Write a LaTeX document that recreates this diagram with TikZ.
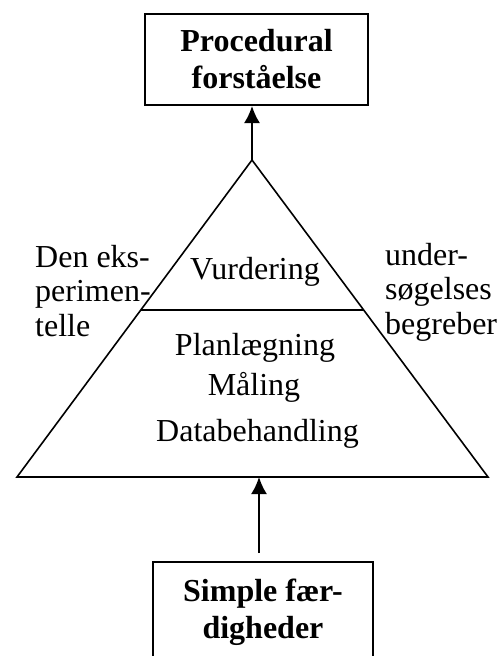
\documentclass[tikz,border=0pt]{standalone}
\usepackage{fontspec}
\setmainfont{Liberation Serif}
\usetikzlibrary{arrows.meta}

\begin{document}
\begin{tikzpicture}[x=1bp,y=-1bp,
    every node/.style={font=\fontsize{32bp}{34.5bp}\selectfont, inner sep=0pt},
    frame/.style={draw, line width=2bp, align=center, font=\fontsize{32bp}{37bp}\selectfont\bfseries},
    arr/.style={line width=2bp, -{Latex[length=17bp,width=16bp]}}]
    \useasboundingbox (0,0) rectangle (504,656);
    \clip (0,0) rectangle (504,656);
    % the two boxes
    \node[frame, minimum width=223bp, minimum height=91bp] (top) at (256.5,59.5) {Procedural\\forst\aa{}else};
    \node[frame, minimum width=220bp, minimum height=101bp] (bot) at (263,612.5) {Simple f\ae{}r-\\digheder};
    % the triangle
    \coordinate (apex) at (252,160);
    \coordinate (bl) at (17,477);
    \coordinate (br) at (488,477);
    \coordinate (ml) at (141,310);
    \coordinate (mr) at (364,310);
    \draw[line width=1.6bp] (apex) -- (bl) -- (br) -- cycle;
    \draw[line width=1.6bp] (ml) -- (mr);
    % arrows
    \coordinate (basemid) at (259,477);
    \coordinate (armstart) at (259,553);
    \draw[arr] (apex) -- (apex |- top.south);
    \draw[arr] (armstart) -- (basemid);
    % texts in the triangle
    \node[anchor=base] (vur) at (255,279) {Vurdering};
    \node[anchor=base] (plan) at (255,355) {Planl\ae{}gning};
    \node[anchor=base] (maal) at (254,395) {M\aa{}ling};
    \node[anchor=base] (data) at (257.5,441) {Databehandling};
    % side texts (base = last line)
    \node[anchor=base west, align=left] (lft) at (35,336) {Den eks-\\perimen-\\telle};
    \node[anchor=base west, align=left] (rgt) at (385,334) {under-\\s\o{}gelses\\begreber};
\end{tikzpicture}
\end{document}
